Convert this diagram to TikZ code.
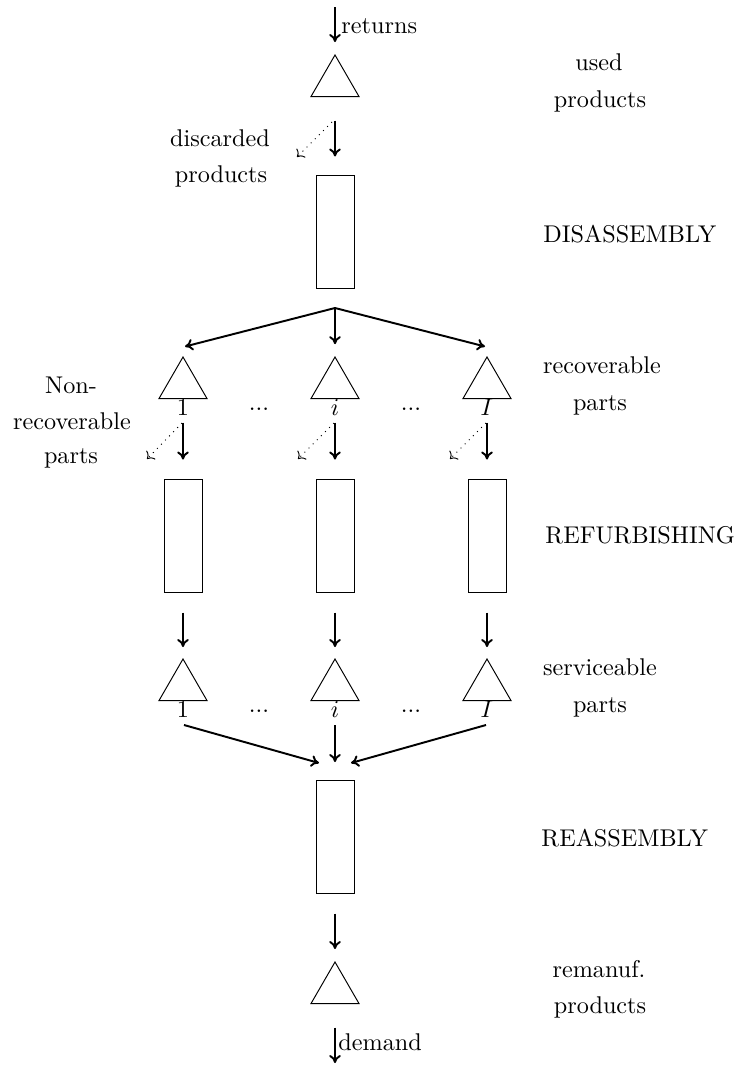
\documentclass[tikz,border=0pt]{standalone}
\usetikzlibrary{shapes.geometric,arrows.meta}
\begin{document}
\begin{tikzpicture}[x=0.4132pt,y=-0.4132pt,
  tri/.style={draw, regular polygon, regular polygon sides=3, minimum size=22.9pt, inner sep=0pt, line width=0.4pt},
  box/.style={draw, rectangle, minimum width=15.7pt, minimum height=46.3pt, inner sep=0pt, line width=0.4pt},
  arr/.style={-{To[length=3.3pt,width=4.8pt]}, line width=0.8pt},
  dotarr/.style={->, dotted, line width=0.4pt},
  lbl/.style={anchor=base, inner sep=0pt},
  lblw/.style={anchor=base west, inner sep=0pt}]
\useasboundingbox (0,0) rectangle (739,1067);

% nodes
\node[tri] (t0) at (335,82.7) {};
\node[box] (r0) at (335,232) {};
\node[tri] (t1) at (183,384.7) {};
\node[tri] (t2) at (335,384.7) {};
\node[tri] (t3) at (487,384.7) {};
\node[box] (r1) at (183,536) {};
\node[box] (r2) at (335,536) {};
\node[box] (r3) at (487,536) {};
\node[tri] (t4) at (183,686.7) {};
\node[tri] (t5) at (335,686.7) {};
\node[tri] (t6) at (487,686.7) {};
\node[box] (r7) at (335,837) {};
\node[tri] (t7) at (335,989.7) {};

% coordinates
\coordinate (in) at (335,7);
\coordinate (out) at (335,1063);
\coordinate (b) at (335,308);
\coordinate (a1) at (185,346.5);
\coordinate (a3) at (485,346.5);
\coordinate (d0s) at (332,122); \coordinate (d0e) at (297,157);
\coordinate (d1s) at (182,423); \coordinate (d1e) at (147,459);
\coordinate (d2s) at (334,423); \coordinate (d2e) at (298,459);
\coordinate (d3s) at (486,423); \coordinate (d3e) at (450,459);
\coordinate (s4) at (184,725); \coordinate (e4) at (319,763);
\coordinate (s5) at (335,725); \coordinate (e5) at (335,762);
\coordinate (s6) at (486,725); \coordinate (e6) at (351,763);

% connectors
\draw[arr, shorten >=4.96pt] (in) -- (t0.corner 1);
\draw[arr, shorten <=9.7pt, shorten >=7.85pt] (t0) -- (r0);
\draw[dotarr] (d0s) -- (d0e);
\draw[arr] (b) -- (a1);
\draw[arr, shorten >=4.9pt] (b) -- (t2.corner 1);
\draw[arr] (b) -- (a3);
\foreach \i in {1,2,3}{
  \draw[arr, shorten <=9.7pt, shorten >=8.26pt] (t\i) -- (r\i);
  \draw[dotarr] (d\i s) -- (d\i e);
}
\draw[arr, shorten <=8.26pt, shorten >=4.55pt] (r1) -- (t4);
\draw[arr, shorten <=8.26pt, shorten >=4.55pt] (r2) -- (t5);
\draw[arr, shorten <=8.26pt, shorten >=4.55pt] (r3) -- (t6);
\draw[arr] (s4) -- (e4);
\draw[arr] (s5) -- (e5);
\draw[arr] (s6) -- (e6);
\draw[arr, shorten <=8.26pt, shorten >=4.96pt] (r7) -- (t7);
\draw[arr, shorten <=9.7pt] (t7) -- (out);

% labels
\node[lblw] (lret) at (341,33) {returns};
\node[lblw] (ldem) at (338,1050) {demand};
\node[lbl] (lused1) at (599,71) {used};
\node[lbl] (lused2) at (600,107) {products};
\node[lbl] (ldis1) at (220,146) {discarded};
\node[lbl] (ldis2) at (221,182) {products};
\node[lblw] (ldisa) at (543,242) {DISASSEMBLY};
\node[lbl] (lnon1) at (71,393) {Non-};
\node[lbl] (lnon2) at (72,429) {recoverable};
\node[lbl] (lnon3) at (71,463) {parts};
\node[lbl] (lrec1) at (602,373) {recoverable};
\node[lbl] (lrec2) at (600,410) {parts};
\node[lblw] (lref) at (545,543) {REFURBISHING};
\node[lbl] (lser1) at (600,675) {serviceable};
\node[lbl] (lser2) at (600,712) {parts};
\node[lblw] (lrea) at (541,846) {REASSEMBLY};
\node[lbl] (lrem1) at (599,977) {remanuf.};
\node[lbl] (lrem2) at (600,1013) {products};

\node[lbl] (n1) at (183,415) {$1$};
\node[lbl] (n2) at (335,415) {$i$};
\node[lbl] (n3) at (487,415) {$I$};
\node[lbl] (dots1) at (259,410) {...};
\node[lbl] (dots2) at (411,410) {...};
\node[lbl] (n4) at (183,717) {$1$};
\node[lbl] (n5) at (335,717) {$i$};
\node[lbl] (n6) at (487,717) {$I$};
\node[lbl] (dots3) at (259,712) {...};
\node[lbl] (dots4) at (411,712) {...};
\end{tikzpicture}
\end{document}
